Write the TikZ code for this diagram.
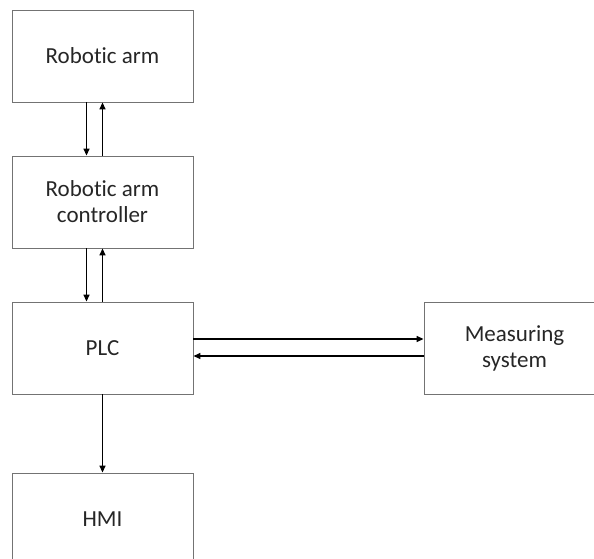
\documentclass[tikz,border=0pt]{standalone}
\usepackage{fontspec}
\setmainfont{Carlito}[Ligatures={NoCommon}]
\usetikzlibrary{arrows.meta}
\tikzset{
  blk/.style={draw=black!55, line width=0.9pt, minimum width=181pt, minimum height=92pt,
    inner sep=0pt, align=center, font=\fontsize{23}{26}\selectfont, text=black!85},
  arr/.style={line width=1.5pt, -{Triangle[length=7pt,width=6pt]}}
}
\begin{document}
\begin{tikzpicture}[x=1pt,y=-1pt]
\useasboundingbox (0,0) rectangle (594,559);
\clip (0,0) rectangle (594,559);
\node[blk] (ra)  at (102.5,56)  {Robotic arm};
\node[blk] (rac) at (102.5,202) {Robotic arm\\controller};
\node[blk] (plc) at (102.5,348) {PLC};
\node[blk] (hmi) at (102.5,519) {HMI};
\node[blk] (ms)  at (514.5,348) {Measuring\\system};
\draw[arr] ([xshift=-16pt]ra.south) -- ([xshift=-16pt]rac.north);
\draw[arr] (rac.north) -- (ra.south);
\draw[arr] ([xshift=-16pt]rac.south) -- ([xshift=-16pt]plc.north);
\draw[arr] (plc.north) -- (rac.south);
\draw[arr] (plc.south) -- (hmi.north);
\draw[arr] ([yshift=9pt]plc.east) -- ([yshift=9pt]ms.west);
\draw[arr] ([yshift=-8pt]ms.west) -- ([yshift=-8pt]plc.east);
\end{tikzpicture}
\end{document}
